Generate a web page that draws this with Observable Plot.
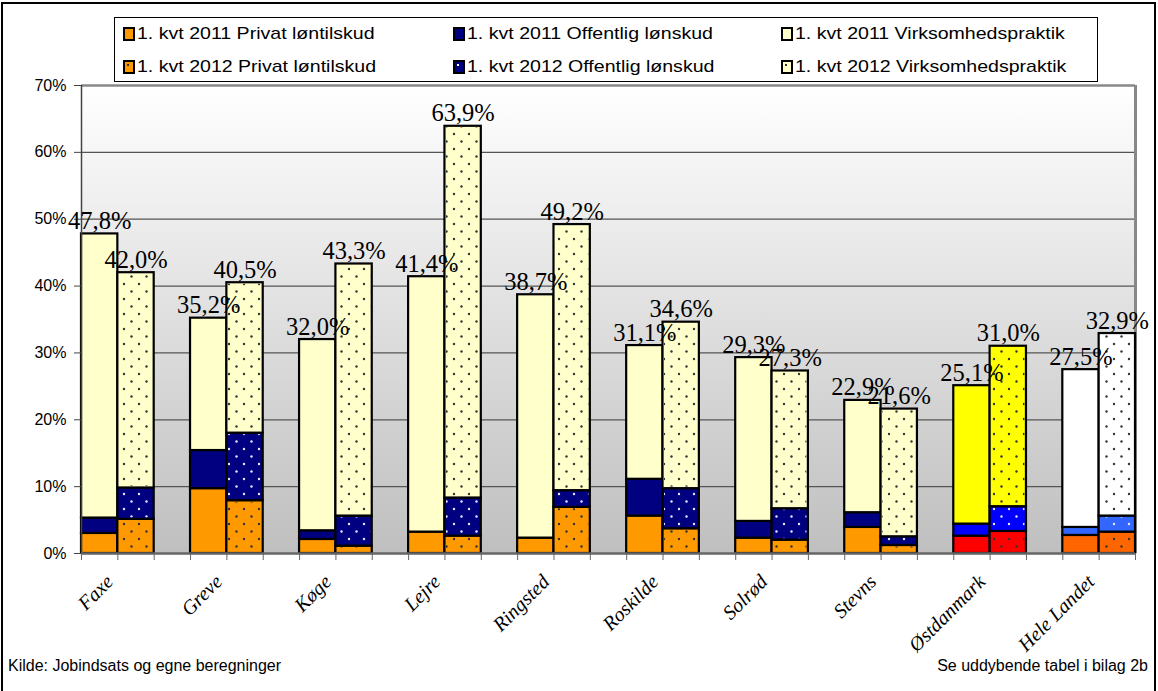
<!DOCTYPE html>
<html><head><meta charset="utf-8">
<script src="https://cdn.jsdelivr.net/npm/d3@7"></script>
<script src="https://cdn.jsdelivr.net/npm/@observablehq/plot@0.6"></script>
<style>
html,body{margin:0;padding:0;overflow:hidden;background:#fff;width:1158px;height:691px;}
body{font-family:"Liberation Sans",Arial,sans-serif;position:relative;}
#frame{position:absolute;left:1px;top:2px;width:1155px;height:700px;border:2px solid #000;box-sizing:border-box;}
#legend{position:absolute;left:114px;top:17px;width:984px;height:65px;border:1px solid #000;box-sizing:border-box;background:#fff;}
.item{position:absolute;font-size:17px;line-height:20px;white-space:nowrap;color:#000;transform:scaleX(1.15);transform-origin:0 50%;}
.sw{position:absolute;width:8px;height:10px;border:2px solid #000;}
#chart{position:absolute;left:0;top:70px;}
.foot{position:absolute;top:656px;font-size:16px;line-height:20px;white-space:nowrap;color:#000;}
</style></head>
<body>
<div id="frame"></div>
<div id="legend"></div>
<div id="chart"></div>
<div class="foot" style="left:8px;">Kilde: Jobindsats og egne beregninger</div>
<div class="foot" style="right:10px;">Se uddybende tabel i bilag 2b</div>
<script>
// ---- data (percent) ----
const categories = ["Faxe","Greve","Køge","Lejre","Ringsted","Roskilde","Solrød","Stevns","Østdanmark","Hele Landet"];
const privat2011 = [3.0, 9.7, 2.1, 3.2, 2.3, 5.6, 2.3, 3.9, 2.6, 2.7];
const offentlig2011 = [2.3, 5.7, 1.3, 0.0, 0.0, 5.5, 2.5, 2.2, 1.8, 1.2];
const virk2011 = [42.5, 19.8, 28.6, 38.2, 36.4, 20.0, 24.5, 16.8, 20.7, 23.6];
const total2011 = [47.8, 35.2, 32.0, 41.4, 38.7, 31.1, 29.3, 22.9, 25.1, 27.5];
const privat2012 = [5.1, 7.9, 1.1, 2.6, 6.9, 3.7, 2.0, 1.2, 3.3, 3.2];
const offentlig2012 = [4.7, 10.1, 4.5, 5.7, 2.5, 6.0, 4.7, 1.3, 3.7, 2.4];
const virk2012 = [32.2, 22.5, 37.7, 55.6, 39.8, 24.9, 20.6, 19.1, 24.0, 27.3];
const total2012 = [42.0, 40.5, 43.3, 63.9, 49.2, 34.6, 27.3, 21.6, 31.0, 32.9];
const yTicks = [0, 10, 20, 30, 40, 50, 60, 70];
const seriesNames = ["Privat løntilskud", "Offentlig lønskud", "Virksomhedspraktik"];

// ---- styles ----
const defaultColors = ["#FF9900", "#000080", "#FFFFCC"];
const specialColors = {"Østdanmark": ["#FF0000", "#0000FF", "#FFFF00"], "Hele Landet": ["#FF6600", "#3366FF", "#FFFFFF"]};
const darkSeg = [false, true, false];

// ---- build segments ----
const segments = [];
const totals = [];
categories.forEach((c, i) => {
  const cols = specialColors[c] || defaultColors;
  [[2011, [privat2011[i], offentlig2011[i], virk2011[i]], total2011[i], 0],
   [2012, [privat2012[i], offentlig2012[i], virk2012[i]], total2012[i], 1]].forEach(([year, vals, tot, k]) => {
    let base = 0;
    vals.forEach((v, s) => {
      segments.push({cat: c, year, series: seriesNames[s], x1: i * 3 + k, x2: i * 3 + k + 1, y1: base, y2: base + v, color: cols[s], dark: darkSeg[s]});
      base += v;
    });
    totals.push({cat: c, year, xc: i * 3 + k + 0.5, total: tot});
  });
});
const seg2012 = segments.filter(d => d.year === 2012 && d.y2 > d.y1);
const fmt = v => v.toFixed(1).replace(".", ",") + "%";

const plot = Plot.plot({
  width: 1158, height: 585,
  marginTop: 15, marginLeft: 81, marginRight: 23, marginBottom: 102,
  x: {domain: [0, 29], axis: null},
  y: {domain: [0, 70], axis: null},
  color: {type: "identity"},
  style: {fontFamily: "'Liberation Sans', Arial, sans-serif", fontSize: "16px", color: "#000", background: "transparent"},
  marks: [
    Plot.frame({fill: "url(#bgGrad)", stroke: "none"}),
    Plot.ruleY(yTicks.filter(t => t > 0 && t < 70), {stroke: "#555", strokeWidth: 1.2}),
    Plot.ruleY([70], {stroke: "#888", strokeWidth: 2.5}),
    Plot.ruleX([29], {y1: 0, y2: 70, stroke: "#888", strokeWidth: 3}),
    Plot.rect(segments.filter(d => d.y2 > d.y1), {x1: "x1", x2: "x2", y1: "y1", y2: "y2", fill: "color", stroke: "#000", strokeWidth: 2.2}),
    Plot.rect(seg2012.filter(d => !d.dark), {x1: "x1", x2: "x2", y1: "y1", y2: "y2", fill: "url(#dotsDark)", inset: 1.5}),
    Plot.rect(seg2012.filter(d => d.dark), {x1: "x1", x2: "x2", y1: "y1", y2: "y2", fill: "url(#dotsLight)", inset: 1.5}),
    Plot.ruleX([0], {y1: 0, y2: 70, stroke: "#444", strokeWidth: 1.5}),
    Plot.ruleY([0], {stroke: "#666", strokeWidth: 2.5}),
    Plot.axisY({ticks: yTicks, tickFormat: d => d + "%", tickSize: 7, tickPadding: 8, fontSize: 16, stroke: "#444"}),
    Plot.axisX({ticks: d3.range(0, 30), tickFormat: () => "", tickSize: 7, stroke: "#666"}),
    Plot.text(categories, {x: (d, i) => i * 3 + 1, y: 0, text: d => d, rotate: -45, textAnchor: "end", dx: -8, dy: 25, fontSize: 20, fontFamily: "'Liberation Serif', 'Times New Roman', serif", fontStyle: "italic"}),
    Plot.text(totals, {x: "xc", y: "total", text: d => fmt(d.total), lineAnchor: "bottom", dy: -5, fontSize: 24.5, fontFamily: "'Liberation Serif', 'Times New Roman', serif"})
  ]
});

const defs = d3.select(plot).insert("defs", ":first-child");
const g = defs.append("linearGradient").attr("id", "bgGrad").attr("x1", 0).attr("y1", 0).attr("x2", 0).attr("y2", 1);
g.append("stop").attr("offset", 0).attr("stop-color", "#ffffff");
g.append("stop").attr("offset", 1).attr("stop-color", "#bfbfbf");
[["dotsDark", "#333"], ["dotsLight", "#e8e8ff"]].forEach(([id, col]) => {
  const p = defs.append("pattern").attr("id", id).attr("width", 15).attr("height", 15).attr("patternUnits", "userSpaceOnUse");
  p.append("circle").attr("cx", 4).attr("cy", 4).attr("r", 1.2).attr("fill", col);
  p.append("circle").attr("cx", 11.5).attr("cy", 11.5).attr("r", 1.2).attr("fill", col);
});
document.getElementById("chart").appendChild(plot);

// ---- legend ----
const legend = document.getElementById("legend");
const colX = [8, 338, 666];
const rowY = [6, 39];
[2011, 2012].forEach((yr, r) => {
  seriesNames.forEach((s, c) => {
    const sw = document.createElement("div");
    sw.className = "sw";
    sw.style.left = colX[c] + "px";
    sw.style.top = (rowY[r] + 3) + "px";
    sw.style.background = defaultColors[c];
    if (yr === 2012) {
      const dot = document.createElement("div");
      dot.style.cssText = "position:absolute;left:2px;top:2px;width:2px;height:2px;background:" + (c === 1 ? "#fff" : "#333");
      sw.appendChild(dot);
    }
    legend.appendChild(sw);
    const t = document.createElement("div");
    t.className = "item";
    t.style.left = (colX[c] + 14) + "px";
    t.style.top = rowY[r] + "px";
    t.textContent = "1. kvt " + yr + " " + s;
    legend.appendChild(t);
  });
});
</script>
</body></html>
